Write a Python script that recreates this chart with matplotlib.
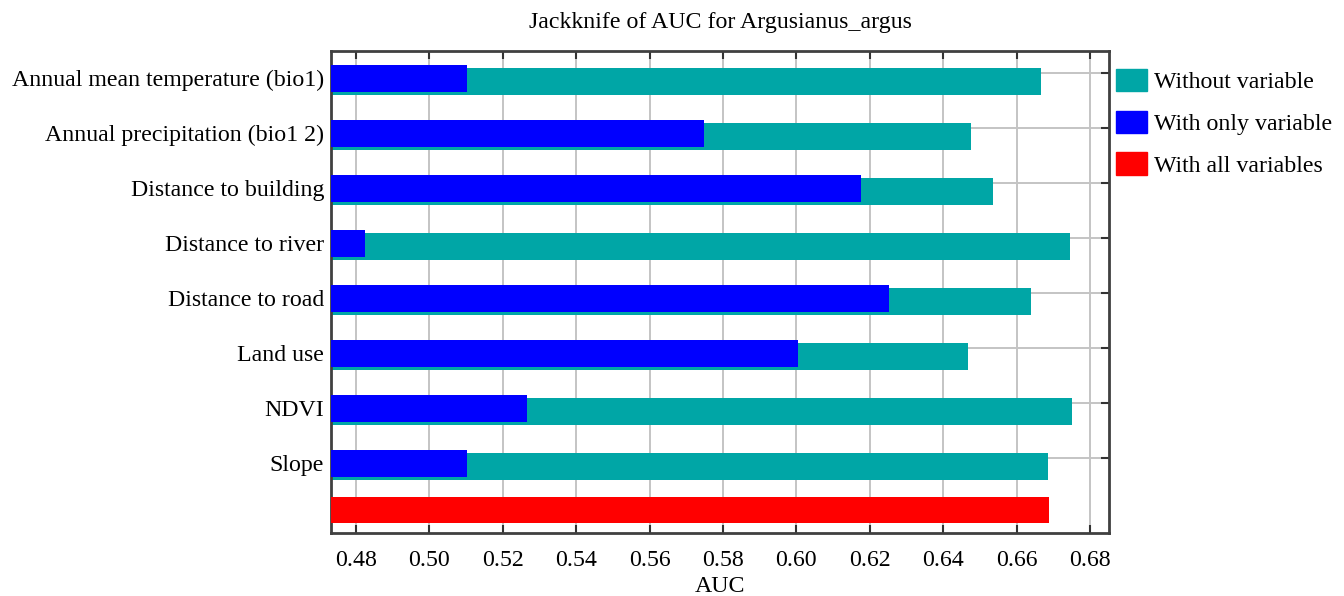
import numpy as np
import matplotlib
matplotlib.use('Agg')
import matplotlib.pyplot as plt
from matplotlib.patches import Patch

plt.rcParams['font.family'] = ['Liberation Serif', 'DejaVu Serif']

# Jackknife results
variables = ['Annual mean temperature (bio1)', 'Annual precipitation (bio1 2)',
             'Distance to building', 'Distance to river', 'Distance to road',
             'Land use', 'NDVI', 'Slope']
without_var = [0.6667, 0.6475, 0.6537, 0.6746, 0.6638, 0.6468, 0.6750, 0.6685]
only_var = [0.5102, 0.5749, 0.6175, 0.4825, 0.6253, 0.6004, 0.5267, 0.5102]
all_vars = 0.6689
x_ticks = [0.48, 0.50, 0.52, 0.54, 0.56, 0.58, 0.60, 0.62, 0.64, 0.66, 0.68]

teal = '#00a6a6'
blue = '#0000ff'
red = '#ff0000'
x_min = 0.4732
fs = 17.2

fig = plt.figure(figsize=(13.44, 5.96), dpi=100)
ax = fig.add_axes([0.2463, 0.1057, 0.5789, 0.8092])

rows = np.arange(len(variables))
red_row = rows[-1] + 0.79

ax.barh(rows, np.array(without_var) - x_min, left=x_min, height=0.49,
        color=teal, zorder=2)
ax.barh(rows - 0.055, np.array(only_var) - x_min, left=x_min, height=0.49,
        color=blue, zorder=3)
ax.barh(red_row, all_vars - x_min, left=x_min, height=0.47, color=red, zorder=3)

ax.set_xlim(x_min, 0.6852)
ax.set_ylim(red_row + 0.418, -0.56)

# grid lines: vertical at ticks, horizontal slightly above each row
ax.set_xticks(x_ticks)
ax.set_xticklabels(['%.2f' % t for t in x_ticks], fontsize=fs)
ax.set_yticks(rows - 0.15, minor=True)
ax.set_yticks(rows - 0.06)
ax.set_yticklabels(variables, fontsize=fs)
ax.grid(True, axis='x', which='major', color='#c4c4c4', lw=1.4, zorder=0)
ax.grid(True, axis='y', which='minor', color='#c4c4c4', lw=1.4, zorder=0)

ax.tick_params(axis='x', direction='in', top=True, bottom=True, length=6,
               width=1.5, color='#333333', pad=12.5)
ax.tick_params(axis='y', which='major', length=0, pad=5)
ax.tick_params(axis='y', which='minor', direction='in', left=True, right=True,
               length=6, width=1.5, color='#333333')

for sp in ax.spines.values():
    sp.set_color('#404040')
    sp.set_linewidth(2)

ax.set_xlabel('AUC', fontsize=fs, labelpad=3)
ax.set_title('Jackknife of AUC for Argusianus_argus', fontsize=fs, pad=16.5)

handles = [Patch(color=teal), Patch(color=blue), Patch(color=red)]
ax.legend(handles, ['Without variable', 'With only variable', 'With all variables'],
          loc='upper left', bbox_to_anchor=(1.009, 0.963), frameon=False,
          fontsize=fs, handlelength=1.3, handleheight=1.09, handletextpad=0.3,
          labelspacing=0.73, borderpad=0, borderaxespad=0)

fig.savefig('out.png', dpi=100)
